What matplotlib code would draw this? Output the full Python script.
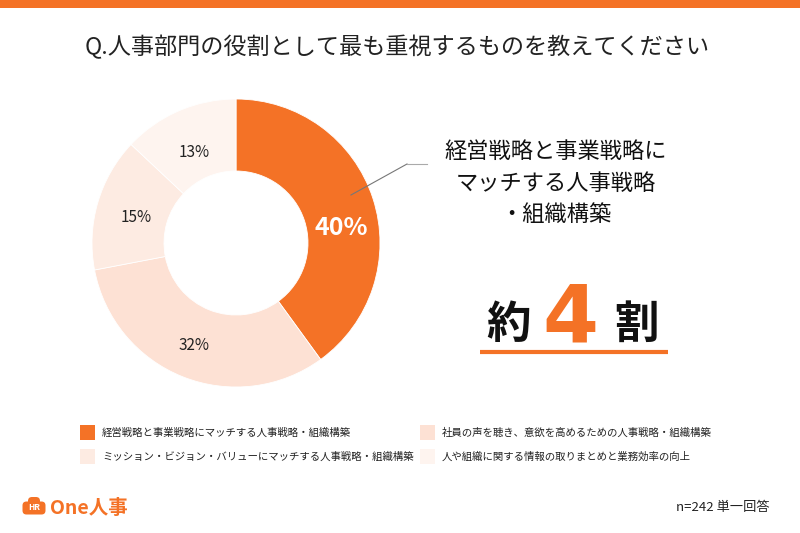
import matplotlib
matplotlib.use("Agg")
from matplotlib import pyplot as plt
from matplotlib.patches import Rectangle, FancyBboxPatch

plt.rcParams['font.family'] = ['Noto Sans CJK JP', 'DejaVu Sans']

title = "Q.人事部門の役割として最も重視するものを教えてください"
labels = ["経営戦略と事業戦略にマッチする人事戦略・組織構築",
          "社員の声を聴き、意欲を高めるための人事戦略・組織構築",
          "ミッション・ビジョン・バリューにマッチする人事戦略・組織構築",
          "人や組織に関する情報の取りまとめと業務効率の向上"]
values = [40, 32, 15, 13]
colors = ["#F47226", "#FDE1D4", "#FDEBE2", "#FEF4EF"]
highlight = "経営戦略と事業戦略に\nマッチする人事戦略\n・組織構築"
note = "n=242 単一回答"
W, H = 800, 533
orange = "#F47226"

fig = plt.figure(figsize=(8, 5.33), dpi=100)

# donut
ax = fig.add_axes([92 / W, 1 - 387 / H, 288 / W, 288 / H])
wedges, texts, autotexts = ax.pie(values, colors=colors, startangle=90, counterclock=False,
                                  autopct="%d%%", pctdistance=0.73,
                                  wedgeprops=dict(width=0.5, edgecolor="white", linewidth=0.6),
                                  textprops=dict(fontsize=11, color="#222222"))
autotexts[0].set_color("white")
autotexts[0].set_fontsize(18)
autotexts[0].set_fontweight("bold")
# nudge labels a little (label spots in the original are not exactly mid-wedge)
nudges = [(0.04, -0.12), (-0.02, -0.03), (0.01, -0.03), (0, -0.04)]
for t, (dx, dy) in zip(autotexts, nudges):
    x, y = t.get_position()
    t.set_position((x + dx, y + dy))
ax.set_xlim(-1, 1)
ax.set_ylim(-1, 1)
ax.set_aspect("auto")

# overlay in pixel coordinates
ov = fig.add_axes([0, 0, 1, 1])
ov.set_xlim(0, W)
ov.set_ylim(H, 0)
ov.axis("off")
ov.patch.set_alpha(0)

ov.add_patch(Rectangle((0, 0), W, 8, color=orange, lw=0))
ov.text(397, 47, title, fontsize=16.7, color="#222222", ha="center", va="center")

# leader line
ov.plot([351, 407], [195, 164], color="#777777", lw=0.8)
ov.plot([407, 427], [164, 164], color="#AAAAAA", lw=0.8)

ov.text(556, 183, highlight, fontsize=16, color="#111111", ha="center", va="center",
        linespacing=1.45)

ov.text(509, 325, "約", fontsize=32, color="#111111", ha="center", va="center", fontweight="bold")
ov.text(570, 320, "4", fontsize=58, color=orange, ha="center", va="center",
        fontweight="bold", family=["DejaVu Sans"])
ov.text(636, 325, "割", fontsize=32, color="#111111", ha="center", va="center", fontweight="bold")
ov.plot([480, 668], [352, 352], color=orange, lw=3, solid_capstyle="butt")

# legend
pos = [(80, 433), (420, 433), (80, 457), (420, 457)]
for (x, y), lab, c in zip(pos, labels, colors):
    ov.add_patch(Rectangle((x, y - 8), 15, 15, color=c, lw=0))
    ov.text(x + 22, y, lab, fontsize=7.5, color="#222222", ha="left", va="center")

# logo
ov.add_patch(FancyBboxPatch((24, 503), 20, 10, boxstyle="round,pad=1.5,rounding_size=4",
                            color=orange, lw=0))
ov.add_patch(FancyBboxPatch((29, 498), 10, 8, boxstyle="round,pad=1,rounding_size=4",
                            color=orange, lw=0))
ov.text(34, 508, "HR", fontsize=6, color="white", ha="center", va="center", fontweight="bold")
ov.text(50, 508, "One人事", fontsize=14, color=orange, ha="left", va="center", fontweight="bold")

ov.text(770, 507, note, fontsize=9.5, color="#222222", ha="right", va="center")

fig.savefig("out.png", dpi=100, facecolor="white")
